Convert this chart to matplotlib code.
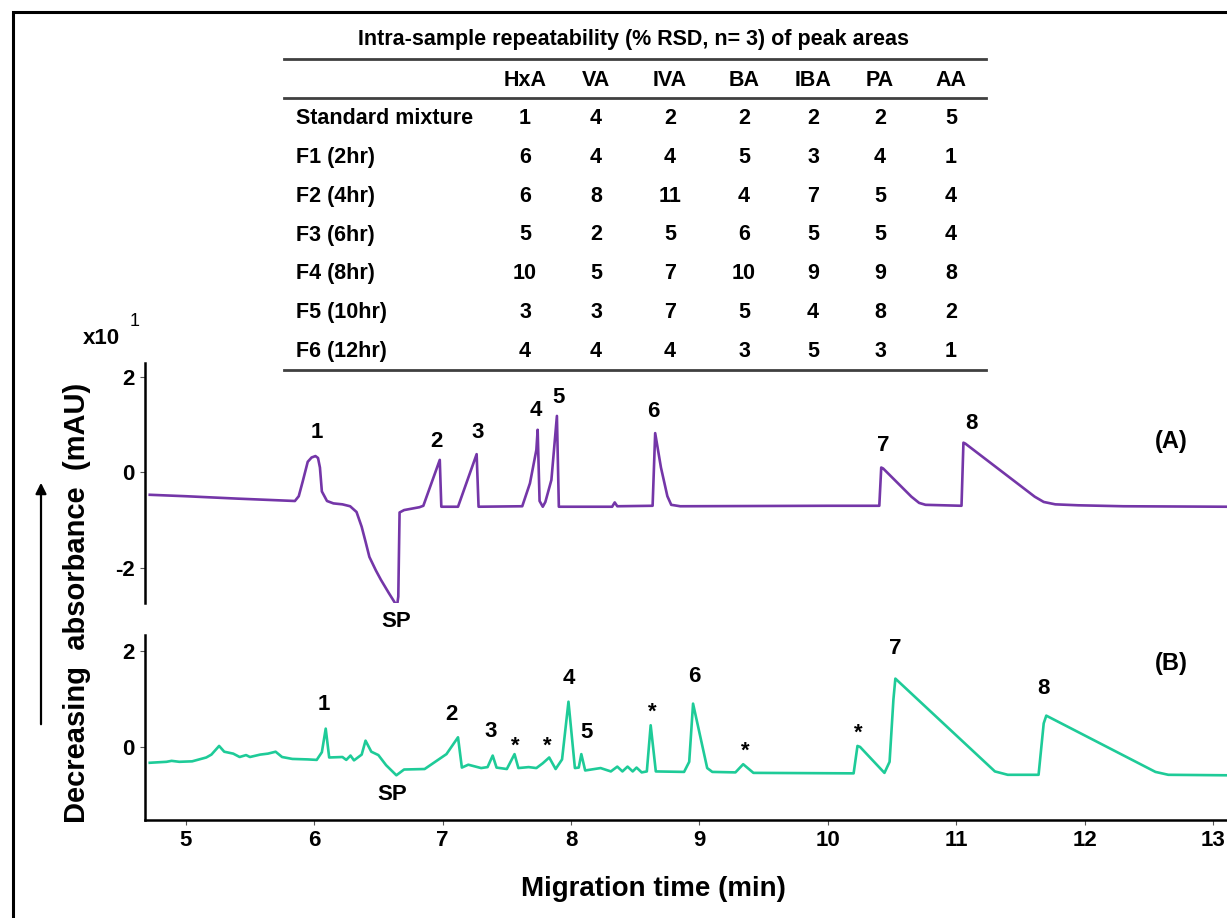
import matplotlib
matplotlib.use('Agg')
import matplotlib.pyplot as plt
from matplotlib.lines import Line2D
from matplotlib.patches import FancyArrowPatch, Rectangle

W, H = 1227, 918
plt.rcParams['font.family'] = ['Liberation Sans', 'DejaVu Sans']
plt.rcParams['font.weight'] = 'bold'
plt.rcParams['axes.unicode_minus'] = False

# ---------------- table data ----------------
table_title = "Intra-sample repeatability (% RSD, n= 3) of peak areas"
acids = ["HxA", "VA", "IVA", "BA", "IBA", "PA", "AA"]
samples = ["Standard mixture", "F1 (2hr)", "F2 (4hr)", "F3 (6hr)",
           "F4 (8hr)", "F5 (10hr)", "F6 (12hr)"]
rsd_std = [1, 4, 2, 2, 2, 2, 5]
rsd_f1 = [6, 4, 4, 5, 3, 4, 1]
rsd_f2 = [6, 8, 11, 4, 7, 5, 4]
rsd_f3 = [5, 2, 5, 6, 5, 5, 4]
rsd_f4 = [10, 5, 7, 10, 9, 9, 8]
rsd_f5 = [3, 3, 7, 5, 4, 8, 2]
rsd_f6 = [4, 4, 4, 3, 5, 3, 1]
rsd_rows = [rsd_std, rsd_f1, rsd_f2, rsd_f3, rsd_f4, rsd_f5, rsd_f6]

# ---------------- electropherogram (A) standard mixture ----------------
time_a = [4.72, 5.00, 5.40, 5.85, 5.88, 5.91, 5.95, 5.98, 6.01, 6.03, 6.045, 6.06,
          6.10, 6.15, 6.22, 6.28, 6.33, 6.37, 6.40, 6.43, 6.48, 6.52, 6.58, 6.645,
          6.655, 6.665, 6.70, 6.82, 6.85, 6.978, 6.99, 7.12, 7.265, 7.28, 7.62,
          7.68, 7.73, 7.74, 7.755, 7.78, 7.80, 7.847, 7.89, 7.905, 8.32, 8.34,
          8.36, 8.635, 8.655, 8.70, 8.75, 8.78, 8.85, 10.0, 10.40, 10.415, 10.43,
          10.65, 10.71, 10.76, 11.04, 11.055, 11.07, 11.61, 11.68, 11.77, 11.95,
          12.3, 13.1]
signal_a = [-0.47, -0.50, -0.55, -0.60, -0.50, -0.20, 0.22, 0.31, 0.34, 0.30, 0.10, -0.40,
            -0.60, -0.65, -0.67, -0.71, -0.83, -1.14, -1.45, -1.77, -2.05, -2.25, -2.52, -2.80,
            -2.60, -0.84, -0.79, -0.73, -0.70, 0.26, -0.72, -0.72, 0.38, -0.72, -0.71,
            -0.23, 0.47, 0.89, -0.60, -0.72, -0.62, -0.16, 1.18, -0.72, -0.72, -0.63,
            -0.71, -0.70, 0.82, 0.10, -0.50, -0.68, -0.71, -0.70, -0.70, 0.10, 0.08,
            -0.51, -0.64, -0.68, -0.70, 0.62, 0.60, -0.51, -0.62, -0.67, -0.69,
            -0.71, -0.72]

# ---------------- electropherogram (B) sample ----------------
time_b = [4.72, 4.85, 4.89, 4.95, 5.05, 5.16, 5.20, 5.26, 5.30, 5.37, 5.42, 5.47,
          5.50, 5.58, 5.64, 5.70, 5.75, 5.83, 5.95, 6.02, 6.06, 6.09, 6.117, 6.22,
          6.25, 6.283, 6.31, 6.37, 6.40, 6.445, 6.50, 6.56, 6.64, 6.70, 6.86, 7.03,
          7.12, 7.15, 7.20, 7.30, 7.35, 7.39, 7.42, 7.50, 7.56, 7.59, 7.67, 7.73,
          7.78, 7.83, 7.88, 7.93, 7.98, 8.03, 8.06, 8.08, 8.11, 8.23, 8.31, 8.36,
          8.40, 8.44, 8.48, 8.51, 8.55, 8.59, 8.62, 8.66, 8.88, 8.92, 8.95, 9.06,
          9.10, 9.28, 9.34, 9.42, 10.20, 10.23, 10.25, 10.44, 10.48, 10.51, 10.525,
          11.30, 11.40, 11.64, 11.68, 11.70, 12.55, 12.65, 13.1]
signal_b = [-0.32, -0.30, -0.28, -0.30, -0.29, -0.21, -0.15, 0.03, -0.09, -0.13, -0.20, -0.16,
            -0.20, -0.15, -0.13, -0.09, -0.20, -0.24, -0.25, -0.26, -0.10, 0.39, -0.21, -0.20,
            -0.26, -0.17, -0.27, -0.15, 0.14, -0.09, -0.16, -0.37, -0.58, -0.46, -0.45, -0.14,
            0.21, -0.42, -0.36, -0.43, -0.41, -0.17, -0.42, -0.45, -0.14, -0.43, -0.41, -0.43,
            -0.33, -0.21, -0.45, -0.25, 0.95, -0.43, -0.42, -0.14, -0.48, -0.43, -0.50, -0.40,
            -0.50, -0.40, -0.50, -0.42, -0.52, -0.50, 0.46, -0.50, -0.51, -0.30, 0.91, -0.43,
            -0.51, -0.52, -0.35, -0.53, -0.54, 0.03, 0.01, -0.53, -0.30, 1.00, 1.43,
            -0.50, -0.57, -0.57, 0.50, 0.66, -0.51, -0.57, -0.58]

# peak labels (text, time, signal)
labels_a = ["1", "2", "3", "4", "5", "6", "7", "8"]
label_t_a = [6.02, 6.955, 7.273, 7.728, 7.906, 8.641, 10.43, 11.114]
label_v_a = [0.83, 0.64, 0.83, 1.29, 1.57, 1.27, 0.57, 1.03]
labels_b = ["1", "2", "3", "*", "*", "4", "5", "*", "6", "*", "*", "7", "8"]
label_t_b = [6.075, 7.07, 7.37, 7.564, 7.817, 7.98, 8.12, 8.633, 8.96, 9.357, 10.236, 10.523, 11.68]
label_v_b = [0.90, 0.69, 0.32, 0.15, 0.15, 1.43, 0.30, 0.86, 1.47, 0.03, 0.42, 2.06, 1.23]

color_a = '#7436A8'
color_b = '#1ECB98'

fig = plt.figure(figsize=(W / 100, H / 100), dpi=100)


def fx(px):
    return px / W


def fy(py):
    return 1 - py / H


# outer frame (cropped on right/bottom)
fig.add_artist(Rectangle((fx(12.7), -0.05), 2.0, fy(12) + 0.05, transform=fig.transFigure,
                         fill=False, lw=2.2, ec='black'))

xmin, xmax = 4.683, 13.107

axA = fig.add_axes([fx(145), fy(603), 1 - fx(145), (603 - 363) / H])
axB = fig.add_axes([fx(145), fy(820), 1 - fx(145), (820 - 635) / H])

axA.plot(time_a, signal_a, color=color_a, lw=1.9, solid_joinstyle='round')
axB.plot(time_b, signal_b, color=color_b, lw=1.9, solid_joinstyle='round')

axA.set_xlim(xmin, xmax)
axB.set_xlim(xmin, xmax)
axA.set_ylim(-2.734, 2.287)
axB.set_ylim(-1.51, 2.337)

for ax in (axA, axB):
    for s in ('top', 'right'):
        ax.spines[s].set_visible(False)
    ax.spines['left'].set_linewidth(1.8)
    ax.spines['bottom'].set_linewidth(1.8)
    ax.tick_params(direction='out', length=3.5, width=0.8, color='#555555',
                   labelsize=16, pad=4)
    ax.patch.set_alpha(0)

axA.spines['bottom'].set_visible(False)
axA.set_xticks([])
axA.set_yticks([-2, 0, 2])
axA.set_yticklabels(['-2', '0', '2'])
axB.set_yticks([0, 2])
axB.set_yticklabels(['0', '2'])
axB.set_xticks(range(5, 14))
axB.set_xticklabels([str(v) for v in range(5, 14)])

for t, tx, ty in zip(labels_a, label_t_a, label_v_a):
    axA.text(tx, ty, t, ha='center', va='center', fontsize=16, fontweight='bold', clip_on=False)
axA.text(6.64, -3.13, "SP", ha='center', va='center', fontsize=16, fontweight='bold', clip_on=False)
axA.text(12.67, 0.64, "(A)", ha='center', va='center', fontsize=17, fontweight='bold', clip_on=False)

for t, tx, ty in zip(labels_b, label_t_b, label_v_b):
    if t == '*':
        axB.text(tx, ty - 0.12, t, ha='center', va='center', fontsize=16, fontweight='bold', clip_on=False)
    else:
        axB.text(tx, ty, t, ha='center', va='center', fontsize=16, fontweight='bold', clip_on=False)
axB.text(6.604, -0.99, "SP", ha='center', va='center', fontsize=16, fontweight='bold', clip_on=False)
axB.text(12.67, 1.74, "(B)", ha='center', va='center', fontsize=17, fontweight='bold', clip_on=False)

# axis labels
fig.text(fx(653), fy(889), "Migration time (min)", ha='center', va='center', fontsize=20, fontweight='bold')
fig.text(fx(77), fy(823), "Decreasing  absorbance  (mAU)", ha='center', va='bottom',
         rotation=90, fontsize=21, fontweight='bold')
fig.add_artist(FancyArrowPatch((fx(41), fy(727)), (fx(41), fy(480)), transform=fig.transFigure,
                               arrowstyle='-|>', mutation_scale=16, lw=1.6, color='black'))
fig.text(fx(83), fy(338), "x10", ha='left', va='center', fontsize=16, fontweight='bold')
fig.text(fx(135), fy(322), "1", ha='center', va='center', fontsize=13, fontweight='normal')

# table
fig.text(fx(633.5), fy(40), table_title, ha='center', va='center', fontsize=15.5, fontweight='bold')
col_x = [525, 596, 670, 744, 813, 880, 951]
for cx, a in zip(col_x, acids):
    fig.text(fx(cx), fy(80), a, ha='center', va='center', fontsize=15.5, fontweight='bold')
for i, (name, row) in enumerate(zip(samples, rsd_rows)):
    ry = 118.3 + 38.9 * i
    fig.text(fx(296), fy(ry), name, ha='left', va='center', fontsize=15.5, fontweight='bold')
    for cx, v in zip(col_x, row):
        fig.text(fx(cx), fy(ry), str(v), ha='center', va='center', fontsize=15.5, fontweight='bold')
for ry in (59.3, 98.3, 370):
    fig.add_artist(Line2D([fx(283.7), fx(986)], [fy(ry), fy(ry)], transform=fig.transFigure,
                          color='#404040', lw=2.0))

fig.savefig('out.png', dpi=100)
